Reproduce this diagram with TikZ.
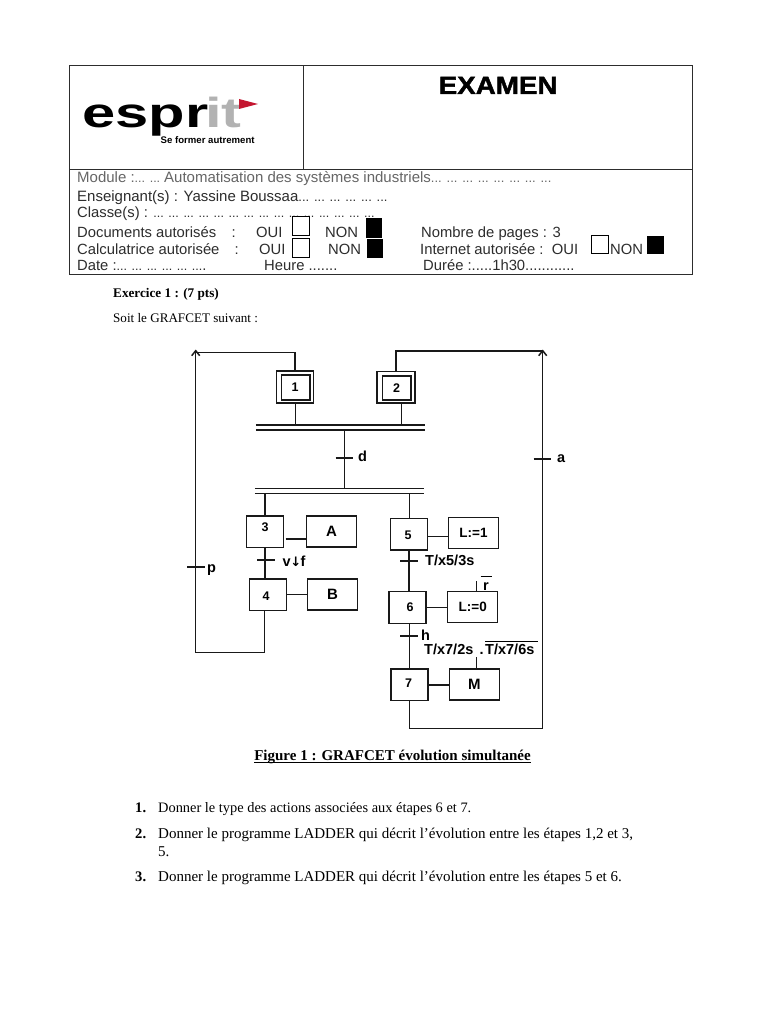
\documentclass[tikz,border=0pt]{standalone}
\usepackage{fontspec}
\setmainfont{Liberation Serif}
\setsansfont{Liberation Sans}
\newfontfamily\symfont{DejaVu Sans Bold}
\newfontfamily\heavysans[FakeBold=1.6]{Liberation Sans Bold}
\usetikzlibrary{arrows.meta, calc}
\definecolor{headgray}{RGB}{45, 45, 45}
\definecolor{itgray}{RGB}{178, 178, 178}
\definecolor{flagred}{RGB}{196, 22, 48}
\newcommand{\dotsrun}[2][12.5]{{\fontsize{#1}{#1}\selectfont\foreach \i in {1,...,#2}{... }}}
\tikzset{
    stepbox/.style={draw=black!90, line width=1.5pt, minimum width=37pt, minimum height=31.5pt, inner sep=0pt},
    actbox/.style={draw=black!90, line width=1.5pt, minimum width=50pt, minimum height=31pt, inner sep=0pt,
        font=\sffamily\bfseries\fontsize{15}{15}\selectfont},
    steplabel/.style={inner sep=0pt, font=\sffamily\bfseries\fontsize{12.5}{12.5}\selectfont},
    gralabel/.style={inner sep=0pt, anchor=base west, font=\sffamily\bfseries\fontsize{14.5}{14.5}\selectfont},
    headtext/.style={inner sep=0pt, anchor=base west, text=headgray, font=\sffamily\fontsize{14.8}{14.8}\selectfont},
    bodytext/.style={inner sep=0pt, anchor=base west, font=\rmfamily\fontsize{15}{15}\selectfont},
    boldtext/.style={bodytext, font=\rmfamily\bfseries\fontsize{13.2}{13.2}\selectfont},
    numtext/.style={bodytext, font=\rmfamily\bfseries\fontsize{14.6}{14.6}\selectfont},
    barnode/.style={minimum width=169pt, minimum height=4.6pt, inner sep=0pt},
    grafline/.style={draw=black!90, line width=1.5pt},
    upline/.style={grafline, -{Straight Barb[length=5pt, width=8pt]}},
    tickbox/.style={draw=black, line width=0.8pt, minimum width=17pt, minimum height=19pt, inner sep=0pt},
    blackbox/.style={fill=black, minimum width=16.5pt, minimum height=19.5pt, inner sep=0pt},
}
\begin{document}
\begin{tikzpicture}[x=1pt, y=-1pt]
    \useasboundingbox[fill=white] (0, 0) rectangle (768, 1024);

    % Block 1: en-tete
    \draw[draw=headgray, line width=1pt] (69.5, 66) rectangle (692, 274.5);
    \draw[draw=headgray, line width=1pt] (69.5, 170) -- (692, 170);
    \draw[draw=headgray, line width=1pt] (303.7, 66) -- (303.7, 170);
    \node[inner sep=0pt, anchor=base west, xscale=1.42, font=\sffamily\bfseries\fontsize{42}{42}\selectfont] (lgesp) at (82, 128) {espr};
    \node[inner sep=0pt, anchor=base west, xscale=1.42, text=itgray, font=\sffamily\bfseries\fontsize{42}{42}\selectfont] (lgit) at (205, 128) {it};
    \fill[flagred] (239, 99) -- (258, 104) -- (239, 109) -- cycle;
    \node[inner sep=0pt, anchor=base west, font=\sffamily\bfseries\fontsize{9.6}{9.6}\selectfont] (lgtxt) at (160.5, 143.5) {Se former autrement};
    \node[inner sep=0pt, anchor=base west, xscale=1.11, font=\heavysans\fontsize{25}{25}\selectfont] (exam) at (438.5, 94) {EXAMEN};

    \node[headtext, text=black!60, font=\sffamily\fontsize{15}{15}\selectfont] (lmod) at (77, 183) {Module :\dotsrun{2}\unskip\kern4pt Automatisation des systèmes industriels\dotsrun[13]{8}};
    \node[headtext, font=\sffamily\fontsize{15}{15}\selectfont] (lens) at (77, 202) {Enseignant(s) : Yassine Boussaa\dotsrun[13]{6}};
    \node[headtext] (lcla) at (77, 218) {Classe(s) : \dotsrun{15}};
    \node[headtext] (ldoc) at (77, 237) {Documents autorisés};
    \node[headtext] (ldoc2) at (231.5, 237) {:};
    \node[headtext] (ldo1) at (256, 237) {OUI};
    \node[headtext] (ldo2) at (325, 237) {NON};
    \node[headtext] (lcal) at (77, 254) {Calculatrice autorisée};
    \node[headtext] (lcal2) at (234.5, 254) {:};
    \node[headtext] (lca1) at (259, 254) {OUI};
    \node[headtext] (lca2) at (328, 254) {NON};
    \node[headtext] (ldat) at (77, 270) {Date :\dotsrun{6}\unskip.};
    \node[headtext] (lheu) at (264, 270) {Heure .......};
    \node[headtext] (lnbr) at (421, 237) {Nombre de pages : 3};
    \node[headtext] (lint) at (420, 254) {Internet autorisée :\ \ OUI};
    \node[headtext] (lin2) at (610, 254) {NON};
    \node[headtext] (ldur) at (423, 270) {Durée :.....1h30............};

    \node[tickbox] (cko1) at (300.5, 225.5) {};
    \node[tickbox] (cko2) at (300.5, 247.5) {};
    \node[tickbox, minimum height=17.5pt, minimum width=16.5pt] (cko3) at (600, 244.5) {};
    \node[blackbox] (ckn1) at (374, 228) {};
    \node[blackbox] (ckn2) at (375, 248.5) {};
    \node[blackbox, minimum height=18pt] (ckn3) at (655.5, 245) {};

    % Block 2: texte
    \node[boldtext] (exo) at (113, 297) {Exercice 1 : (7 pts)};
    \node[bodytext, font=\rmfamily\fontsize{13.1}{13.1}\selectfont] (soit) at (113, 322) {Soit le GRAFCET suivant :};

    % Block 3: etapes
    \node[stepbox, minimum height=32pt] (s1o) at (295.2, 387) {};
    \node[stepbox, minimum width=28.5pt, minimum height=25pt] (s1) at (295.8, 387.5) {};
    \node[steplabel] (n1) at (295, 387.5) {1};
    \node[stepbox, minimum width=38pt] (s2o) at (396, 387.3) {};
    \node[stepbox, minimum width=28.5pt, minimum height=24pt] (s2) at (396.7, 388) {};
    \node[steplabel] (n2) at (396.5, 388) {2};

    \node[barnode] (b1) at (340.5, 427.4) {};
    \node[barnode] (b2) at (339.5, 491) {};
    \draw[grafline] (b1.north west) -- (b1.north east) (b1.south west) -- (b1.south east);
    \draw[grafline] (b2.north west) -- (b2.north east) (b2.south west) -- (b2.south east);

    \node[stepbox] (s3) at (264.8, 531.7) {};
    \node[steplabel] (n3) at (265, 527) {3};
    \node[actbox] (aa) at (331.5, 531.7) {A};
    \node[stepbox] (s4) at (267.8, 594.7) {};
    \node[steplabel] (n4) at (266, 596) {4};
    \node[actbox] (ab) at (332.5, 594.7) {B};
    \node[stepbox] (s5) at (409.2, 534.2) {};
    \node[steplabel] (n5) at (408, 535) {5};
    \node[actbox, font=\sffamily\bfseries\fontsize{13.5}{13.5}\selectfont] (al1) at (473.5, 533.2) {L:=1};
    \node[stepbox, minimum height=32pt] (s6) at (407.7, 607.7) {};
    \node[steplabel] (n6) at (410, 607.5) {6};
    \node[actbox, font=\sffamily\bfseries\fontsize{13.5}{13.5}\selectfont] (al0) at (472.7, 607.2) {L:=0};
    \node[stepbox] (s7) at (409.7, 684.8) {};
    \node[steplabel] (n7) at (408.5, 683.5) {7};
    \node[actbox] (am) at (474.3, 684.5) {M};

    % Block 4: liaisons
    \coordinate (topl) at (195.7, 352.3);
    \coordinate (topr) at (542.7, 350.7);
    \coordinate (tipl) at (195.7, 349.5);
    \coordinate (tipr) at (542.7, 349.5);
    \coordinate (botl) at (264.3, 652.7);
    \coordinate (botr) at (409.3, 728.7);
    \coordinate (bard) at (344.3, 429.7);
    \draw[grafline] (s1o.north) -- (s1o.north |- topl) -- (topl);
    \draw[grafline, line width=1.7pt] (s2o.north) -- (s2o.north |- topr) -- (topr);
    \draw[upline] (botl -| tipl) -- (tipl);
    \draw[upline] (botr -| tipr) -- (tipr);
    \draw[grafline] (s4.south -| botl) -- (botl) -- (botl -| topl);
    \draw[grafline] (s7.south -| botr) -- (botr) -- (botr -| topr);
    \draw[grafline] ([xshift=0.5pt]s1o.south) -- ([xshift=0.5pt]s1o.south |- b1.north);
    \draw[grafline] ([xshift=5.3pt]s2o.south) -- ([xshift=5.3pt]s2o.south |- b1.north);
    \draw[grafline] (bard) -- (bard |- b2.north);
    \draw[grafline] (s3.north) -- (s3.north |- b2.south);
    \draw[grafline] ([xshift=0.5pt]s5.north) -- ([xshift=0.5pt]s5.north |- b2.south);
    \draw[grafline] (s3.south) -- (s3.south |- s4.north);
    \draw[grafline] (s5.south) -- (s5.south |- s6.north);
    \draw[grafline] ([xshift=1.6pt]s6.south) -- ([xshift=1.6pt]s6.south |- s7.north);
    \draw[grafline] ([yshift=-7.5pt, xshift=1.5pt]s3.east) -- ([yshift=-7.5pt]aa.west);
    \draw[grafline] (s4.east) -- (ab.west);
    \draw[grafline] ([yshift=-2.5pt]s5.east) -- ([yshift=-2.5pt]s5.east -| al1.west);
    \draw[grafline] (s6.east) -- (s6.east -| al0.west);
    \draw[grafline] (s7.east) -- (s7.east -| am.west);

    % Block 5: receptivites
    \draw[grafline] (335.7, 458) -- (353, 458);
    \draw[grafline] (533.5, 459) -- (551, 459);
    \draw[grafline] (187, 567) -- (204.5, 567);
    \draw[grafline] (257.3, 560) -- (275, 560);
    \draw[grafline] (400, 561) -- (417.5, 561);
    \draw[grafline] (400, 636) -- (417.5, 636);
    \node[gralabel] (td) at (358, 461) {d};
    \node[gralabel] (ta) at (557, 462) {a};
    \node[gralabel] (tp) at (207, 572) {p};
    \node[gralabel] (tv) at (282.5, 566) {v{\symfont\fontsize{13}{13}\selectfont\kern-0.5pt↓\kern-0.5pt}f};
    \node[gralabel] (t5) at (425, 565) {T/x5/3s};
    \node[gralabel] (th) at (421, 640) {h};
    \node[gralabel] (t7a) at (424, 654) {T/x7/2s};
    \node[gralabel] (t7b) at (479.5, 654) {.};
    \node[gralabel] (t7c) at (485, 654) {T/x7/6s};
    \node[gralabel] (tr) at (483, 590) {r};
    \draw[black, line width=1pt] (480.5, 576.5) -- (491.5, 576.5);
    \draw[black, line width=1pt] (485, 641) -- (538, 641);
    \coordinate (stemr) at (476.7, 580.7);
    \coordinate (stemm) at (476.7, 657);
    \draw[grafline] (al0.north -| stemr) -- (stemr);
    \draw[grafline] (am.north -| stemm) -- (stemm);

    % Block 6: legende et questions
    \node[inner sep=0pt, font=\rmfamily\bfseries\fontsize{15}{15}\selectfont, anchor=base] (cap) at (392.5, 760) {Figure 1 : GRAFCET évolution simultanée};
    \draw[black, line width=0.8pt] (254, 762.5) -- (531, 762.5);
    \node[numtext] (q1n) at (135, 812) {1.};
    \node[bodytext, font=\rmfamily\fontsize{14.4}{14.4}\selectfont] (q1) at (158, 812) {Donner le type des actions associées aux étapes 6 et 7.};
    \node[numtext] (q2n) at (135, 838) {2.};
    \node[bodytext] (q2) at (158, 838) {Donner le programme LADDER qui décrit l’évolution entre les étapes 1,2 et 3,};
    \node[bodytext] (q2b) at (158, 856) {5.};
    \node[numtext] (q3n) at (135, 881) {3.};
    \node[bodytext] (q3) at (158, 881) {Donner le programme LADDER qui décrit l’évolution entre les étapes 5 et 6.};
\end{tikzpicture}
\end{document}
